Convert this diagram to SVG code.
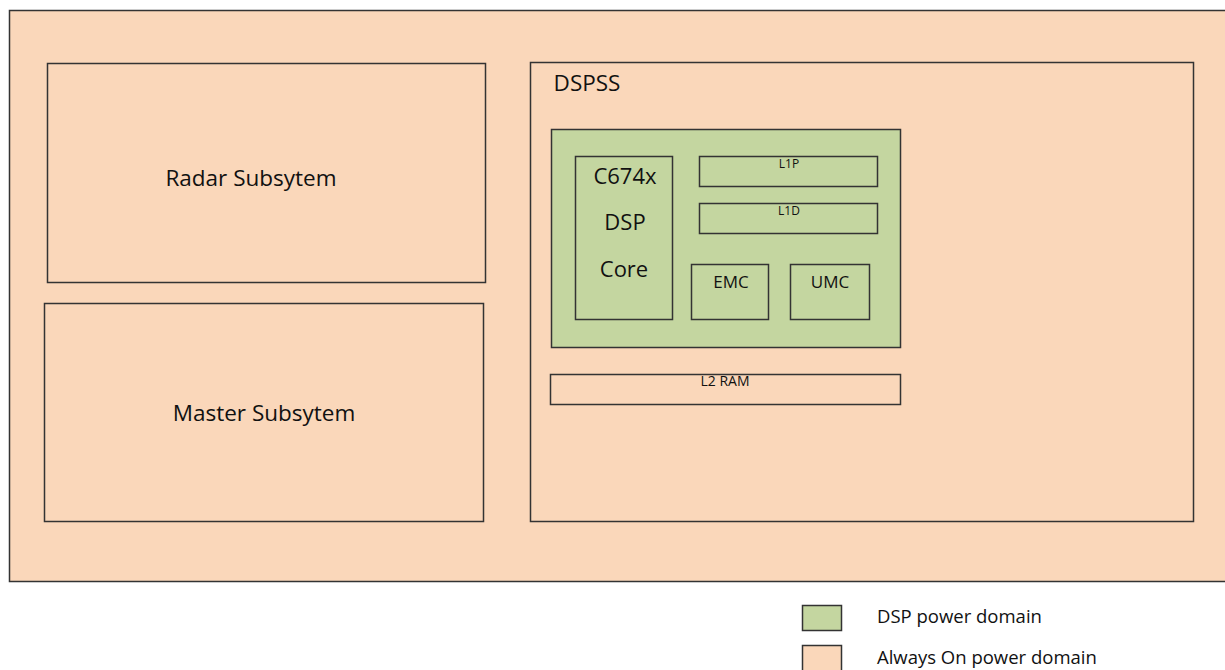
<svg xmlns="http://www.w3.org/2000/svg" width="1225" height="670" viewBox="0 0 1225 670">
  <style>
    .ao { fill: #FAD7BA; stroke: #333; stroke-width: 1.5; }
    .dsp { fill: #C4D6A0; stroke: #333; stroke-width: 1.5; }
    .box { fill: none; stroke: #333; stroke-width: 1.5; }
    text { font-family: "Open Sans", "Liberation Sans", sans-serif; fill: #111; }
    .big { font-size: 22.5px; text-anchor: middle; }
    .core { font-size: 22px; text-anchor: middle; }
    .mid { font-size: 17px; text-anchor: middle; }
    .small { font-size: 12px; text-anchor: middle; }
    .ram { font-size: 14px; text-anchor: middle; }
    .leg { font-size: 18.5px; }
  </style>
  <rect width="1225" height="670" fill="#fff"/>

  <!-- always-on domain background -->
  <g id="always-on">
    <rect class="ao" x="9.5" y="10.5" width="1225" height="571"/>
  </g>

  <g id="radar">
    <rect class="box" x="47.5" y="63.5" width="438" height="219"/>
    <text class="big" x="251" y="186">Radar Subsytem</text>
  </g>

  <g id="master">
    <rect class="box" x="44.5" y="303.5" width="439" height="218"/>
    <text class="big" x="264" y="421">Master Subsytem</text>
  </g>

  <g id="dspss">
    <rect class="box" x="530.5" y="62.5" width="663" height="459"/>
    <text class="big" x="587" y="91">DSPSS</text>
  </g>

  <!-- DSP power domain -->
  <g id="dsp-domain">
    <rect class="dsp" x="551.5" y="129.5" width="349" height="218"/>
  </g>

  <g id="core">
    <rect class="box" x="575.5" y="156.5" width="97" height="163"/>
    <text class="core" x="625" y="184">C674x</text>
    <text class="core" x="625" y="230">DSP</text>
    <text class="core" x="624" y="277">Core</text>
  </g>

  <g id="l1p">
    <rect class="box" x="699.5" y="156.5" width="178" height="30"/>
    <text class="small" x="789" y="168">L1P</text>
  </g>

  <g id="l1d">
    <rect class="box" x="699.5" y="203.5" width="178" height="30"/>
    <text class="small" x="789" y="215">L1D</text>
  </g>

  <g id="emc">
    <rect class="box" x="691.5" y="264.5" width="77" height="55"/>
    <text class="mid" x="731" y="288">EMC</text>
  </g>

  <g id="umc">
    <rect class="box" x="790.5" y="264.5" width="79" height="55"/>
    <text class="mid" x="830" y="288">UMC</text>
  </g>

  <g id="l2ram">
    <rect class="box" x="550.5" y="374.5" width="350" height="30"/>
    <text class="ram" x="725" y="386">L2 RAM</text>
  </g>

  <!-- legend -->
  <g id="legend">
    <rect class="dsp" x="802.5" y="605.5" width="39" height="25"/>
    <text class="leg" x="877" y="623">DSP power domain</text>
    <rect class="ao" x="802.5" y="645.5" width="39" height="30"/>
    <text class="leg" x="877" y="664">Always On power domain</text>
  </g>

  <g id="connectors"/>
</svg>
